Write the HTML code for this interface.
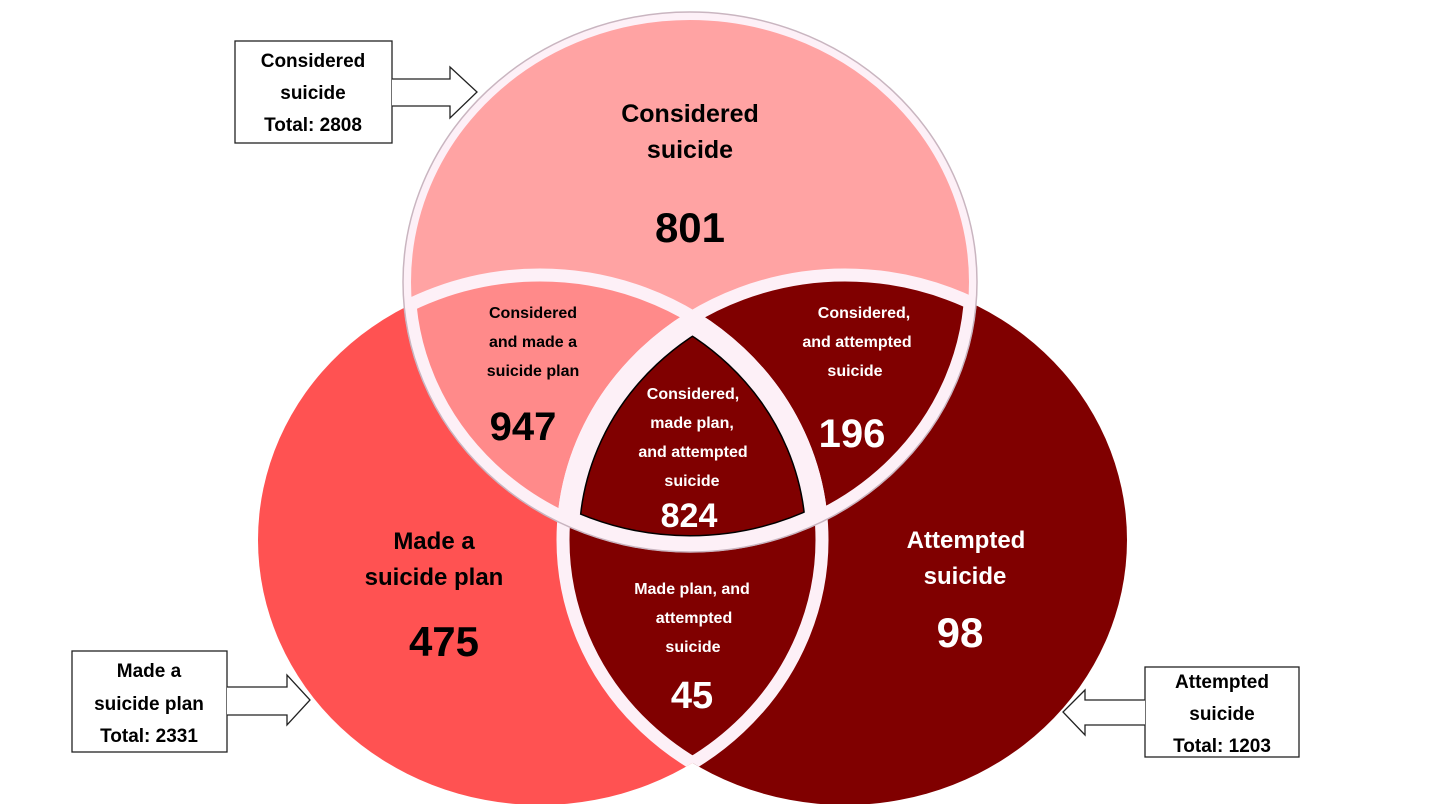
<!DOCTYPE html>
<html><head><meta charset="utf-8"><style>
html,body{margin:0;padding:0;background:#fff;}
svg{display:block;}
text{font-family:"Liberation Sans",sans-serif;font-weight:bold;text-anchor:middle;}
</style></head><body>
<svg width="1430" height="804" viewBox="0 0 1430 804" xmlns="http://www.w3.org/2000/svg">
<defs>
<clipPath id="cT"><ellipse cx="690" cy="282" rx="287" ry="270"/></clipPath>
<clipPath id="cL"><ellipse cx="540" cy="540" rx="282" ry="265"/></clipPath>
<clipPath id="cR"><ellipse cx="845" cy="540" rx="282" ry="265"/></clipPath>
</defs>
<!-- base circles -->
<ellipse cx="540" cy="540" rx="282" ry="265" fill="#FF5252"/>
<ellipse cx="845" cy="540" rx="282" ry="265" fill="#800000"/>
<ellipse cx="690" cy="282" rx="287" ry="270" fill="#FFA3A3"/>
<!-- intersections -->
<g clip-path="url(#cT)">
  <ellipse cx="540" cy="540" rx="282" ry="265" fill="#FF8A8A"/>
  <ellipse cx="845" cy="540" rx="282" ry="265" fill="#800000"/>
</g>
<g clip-path="url(#cL)">
  <ellipse cx="845" cy="540" rx="282" ry="265" fill="#800000"/>
</g>
<!-- center region outline -->
<g clip-path="url(#cT)"><g clip-path="url(#cL)"><g clip-path="url(#cR)">
  <g fill="none" stroke="#000" stroke-width="34">
    <ellipse cx="690" cy="282" rx="287" ry="270"/>
    <ellipse cx="540" cy="540" rx="282" ry="265"/>
    <ellipse cx="845" cy="540" rx="282" ry="265"/>
  </g>
  <g fill="none" stroke="#fdf0f7" stroke-width="31">
    <ellipse cx="690" cy="282" rx="287" ry="270"/>
    <ellipse cx="540" cy="540" rx="282" ry="265"/>
    <ellipse cx="845" cy="540" rx="282" ry="265"/>
  </g>
</g></g></g>
<!-- white separators (interior only) -->
<g fill="none" stroke="#fdf0f7" stroke-width="13">
  <g clip-path="url(#cL)"><ellipse cx="690" cy="282" rx="281" ry="264"/></g>
  <g clip-path="url(#cR)"><ellipse cx="690" cy="282" rx="281" ry="264"/></g>
  <g clip-path="url(#cT)"><ellipse cx="540" cy="540" rx="282" ry="265"/><ellipse cx="845" cy="540" rx="282" ry="265"/></g>
  <g clip-path="url(#cR)"><ellipse cx="540" cy="540" rx="282" ry="265"/></g>
  <g clip-path="url(#cL)"><ellipse cx="845" cy="540" rx="282" ry="265"/></g>
</g>
<!-- top circle outer ring -->
<ellipse cx="690" cy="282" rx="283" ry="266" fill="none" stroke="#fdf0f7" stroke-width="8"/>
<ellipse cx="690" cy="282" rx="287" ry="270" fill="none" stroke="#c9b5c0" stroke-width="1.5"/>

<!-- labels -->
<text x="690" y="122" font-size="25" fill="#000">Considered</text>
<text x="690" y="158" font-size="25" fill="#000">suicide</text>
<text x="690" y="242" font-size="42" fill="#000">801</text>

<text x="533" y="318" font-size="16" fill="#000">Considered</text>
<text x="533" y="347" font-size="16" fill="#000">and  made a</text>
<text x="533" y="376" font-size="16" fill="#000">suicide plan</text>
<text x="523" y="440" font-size="40" fill="#000">947</text>

<text x="864" y="318" font-size="16" fill="#fff">Considered,</text>
<text x="857" y="347" font-size="16" fill="#fff">and attempted</text>
<text x="855" y="376" font-size="16" fill="#fff">suicide</text>
<text x="852" y="447" font-size="40" fill="#fff">196</text>

<text x="693" y="399" font-size="16" fill="#fff">Considered,</text>
<text x="692" y="428" font-size="16" fill="#fff">made plan,</text>
<text x="693" y="457" font-size="16" fill="#fff">and attempted</text>
<text x="692" y="486" font-size="16" fill="#fff">suicide</text>
<text x="689" y="527" font-size="34" fill="#fff">824</text>

<text x="434" y="549" font-size="24" fill="#000">Made a</text>
<text x="434" y="585" font-size="24" fill="#000">suicide plan</text>
<text x="444" y="656" font-size="42" fill="#000">475</text>

<text x="692" y="594" font-size="16" fill="#fff">Made plan, and</text>
<text x="694" y="623" font-size="16" fill="#fff">attempted</text>
<text x="693" y="652" font-size="16" fill="#fff">suicide</text>
<text x="692" y="708" font-size="38" fill="#fff">45</text>

<text x="966" y="548" font-size="24" fill="#fff">Attempted</text>
<text x="965" y="584" font-size="24" fill="#fff">suicide</text>
<text x="960" y="647" font-size="42" fill="#fff">98</text>

<!-- callout 1 -->
<g fill="#fff" stroke="#222" stroke-width="1.3">
  <rect x="235" y="41" width="157" height="102"/>
  <path d="M392 79 H450 V67 L477 92 L450 118 V106 H392"/>
</g>
<text x="313" y="67" font-size="19" fill="#000">Considered</text>
<text x="313" y="99" font-size="19" fill="#000">suicide</text>
<text x="313" y="131" font-size="19" fill="#000">Total: 2808</text>

<!-- callout 2 -->
<g fill="#fff" stroke="#222" stroke-width="1.3">
  <rect x="72" y="651" width="155" height="101"/>
  <path d="M227 687 H287 V675 L310 700 L287 725 V715 H227"/>
</g>
<text x="149" y="677" font-size="19" fill="#000">Made a</text>
<text x="149" y="710" font-size="19" fill="#000">suicide plan</text>
<text x="149" y="742" font-size="19" fill="#000">Total: 2331</text>

<!-- callout 3 -->
<g fill="#fff" stroke="#222" stroke-width="1.3">
  <rect x="1145" y="667" width="154" height="90"/>
  <path d="M1145 700 H1085 V690 L1063 712 L1085 735 V725 H1145"/>
</g>
<text x="1222" y="688" font-size="19" fill="#000">Attempted</text>
<text x="1222" y="720" font-size="19" fill="#000">suicide</text>
<text x="1222" y="752" font-size="19" fill="#000">Total: 1203</text>
</svg>
</body></html>
